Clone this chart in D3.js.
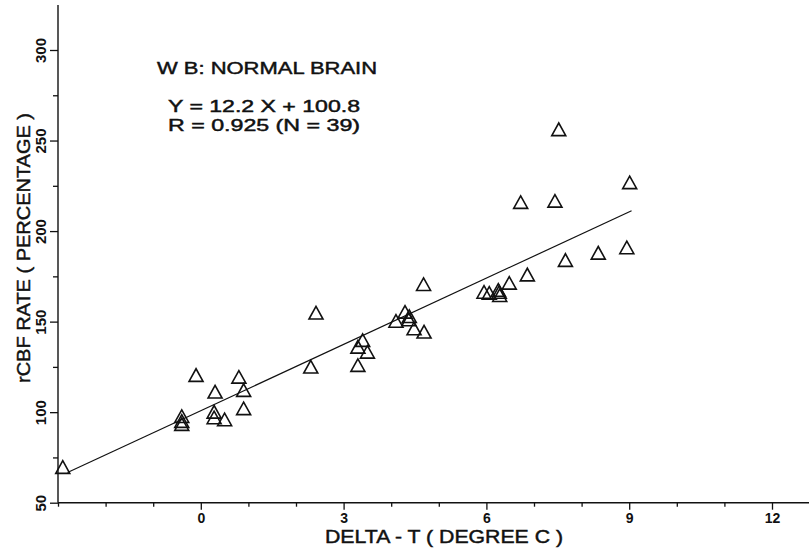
<!doctype html>
<html>
  <head>
    <meta charset="utf-8">
    <title>rCBF rate vs Delta-T</title>
    <script src="https://cdnjs.cloudflare.com/ajax/libs/d3/7.8.5/d3.min.js"></script>
    <style>
      body { margin: 0; background: #fff; }
      svg { display: block; font-family: "Liberation Sans", Arial, sans-serif; }
      .axis path, .axis line { stroke: #111; stroke-width: 1.3; }
      .axis text { fill: #111; font-size: 14px; font-weight: bold; }
      .label { fill: #111; stroke: #111; stroke-width: 0.45; }
    </style>
  </head>
  <body>
    <div id="chart"></div>
    <script>
    // data
    let deltaT = [-2.9, -0.4, -0.4, -0.4, -0.1, 0.3, 0.8, 0.9, 0.9, 0.28, 0.28, 0.5,
                  2.42, 2.31, 3.3, 3.4, 3.3, 3.5, 4.1, 4.29, 4.38, 4.37, 4.48, 4.69, 4.68,
                  5.95, 6.06, 6.27, 6.28, 6.25, 6.48, 6.86, 7.66, 8.35, 8.95,
                  6.72, 7.44, 7.52, 9.01];
    let rcbf = [69.7, 97.8, 95.1, 93.4, 120.5, 111.3, 119.5, 112.2, 102.1, 100.2, 97.1, 96,
                154.9, 125.1, 126, 139.8, 136.1, 133.3, 150.4, 155.4, 153, 151.2, 146.2, 144.4, 170.7,
                166.4, 165.9, 166.4, 164.6, 167.5, 171.4, 176, 184, 188, 191,
                216, 216.7, 256.2, 226.9];

    // regression: Y = 12.2 X + 100.8, drawn over the data range
    let slope = 12.2, intercept = 100.8;
    let fitRange = [-2.8, 9.05];

    let xMajor = [0, 3, 6, 9, 12];
    let xMinor = [-3, -2, -1, 1, 2, 4, 5, 7, 8, 10, 11];
    let yMajor = [50, 100, 150, 200, 250, 300];
    let yMinor = [75, 125, 175, 225, 275];

    let width = 809, height = 549;

    let x = d3.scaleLinear().domain([-3, 12]).range([58, 772]);
    let y = d3.scaleLinear().domain([50, 300]).range([502.7, 50]);

    let svg = d3.select("#chart").append("svg")
      .attr("width", width)
      .attr("height", height);

    // axis lines
    svg.append("line")
      .attr("x1", x(-3)).attr("x2", width)
      .attr("y1", y(50)).attr("y2", y(50))
      .attr("stroke", "#111").attr("stroke-width", 1.4);
    svg.append("line")
      .attr("x1", x(-3)).attr("x2", x(-3))
      .attr("y1", 5).attr("y2", y(50))
      .attr("stroke", "#111").attr("stroke-width", 1.4);

    // x axis, major + minor ticks
    let gx = svg.append("g").attr("class", "axis")
      .attr("transform", `translate(0,${y(50)})`)
      .call(d3.axisBottom(x).tickValues(xMajor).tickSize(7).tickPadding(3).tickFormat(d3.format("d")));
    gx.select(".domain").remove();
    let gxm = svg.append("g").attr("class", "axis")
      .attr("transform", `translate(0,${y(50)})`)
      .call(d3.axisBottom(x).tickValues(xMinor).tickSize(4).tickFormat(""));
    gxm.select(".domain").remove();

    // y axis, labels turned sideways
    let gy = svg.append("g").attr("class", "axis")
      .attr("transform", `translate(${x(-3)},0)`)
      .call(d3.axisLeft(y).tickValues(yMajor).tickSize(8).tickFormat(d3.format("d")));
    gy.select(".domain").remove();
    gy.selectAll("text")
      .attr("x", null).attr("dy", null)
      .attr("text-anchor", "middle")
      .attr("transform", "translate(-12,0) rotate(-90)")
      .style("font-size", "15px");
    let gym = svg.append("g").attr("class", "axis")
      .attr("transform", `translate(${x(-3)},0)`)
      .call(d3.axisLeft(y).tickValues(yMinor).tickSize(5).tickFormat(""));
    gym.select(".domain").remove();

    // axis titles
    svg.append("text")
      .attr("class", "label")
      .attr("x", 444).attr("y", 543)
      .attr("text-anchor", "middle")
      .attr("textLength", 238).attr("lengthAdjust", "spacingAndGlyphs")
      .style("font-size", "18px")
      .text("DELTA - T ( DEGREE C )");
    svg.append("text")
      .attr("class", "label")
      .attr("transform", "translate(30,248) rotate(-90)")
      .attr("text-anchor", "middle")
      .attr("textLength", 270).attr("lengthAdjust", "spacingAndGlyphs")
      .style("font-size", "19px")
      .text("rCBF RATE ( PERCENTAGE )");

    // annotation block
    let notes = [
      { t: "W B: NORMAL BRAIN", yy: 74, w: 220, fs: 17 },
      { t: "Y = 12.2 X + 100.8", yy: 111.5, w: 192, fs: 16 },
      { t: "R = 0.925 (N = 39)", yy: 131, w: 192, fs: 16 }
    ];
    svg.selectAll(".note").data(notes).join("text")
      .attr("class", "note label")
      .attr("x", (d, i) => i === 0 ? 157 : 168)
      .attr("y", d => d.yy)
      .attr("textLength", d => d.w).attr("lengthAdjust", "spacingAndGlyphs")
      .style("font-size", d => d.fs + "px")
      .text(d => d.t);

    // regression line
    svg.append("line")
      .attr("x1", x(fitRange[0])).attr("y1", y(slope * fitRange[0] + intercept))
      .attr("x2", x(fitRange[1])).attr("y2", y(slope * fitRange[1] + intercept))
      .attr("stroke", "#111").attr("stroke-width", 1.2);

    // open triangles, centred on their box
    let tri = {
      draw(ctx, size) {
        let w = Math.sqrt(size), h = w * 0.9;
        ctx.moveTo(0, -h / 2);
        ctx.lineTo(w / 2, h / 2);
        ctx.lineTo(-w / 2, h / 2);
        ctx.closePath();
      }
    };
    let pts = deltaT.map((d, i) => [d, rcbf[i]]);
    svg.selectAll(".pt").data(pts).join("path")
      .attr("class", "pt")
      .attr("d", d3.symbol().type(tri).size(196))
      .attr("transform", d => `translate(${x(d[0])},${y(d[1])})`)
      .attr("fill", "none")
      .attr("stroke", "#111")
      .attr("stroke-width", 1.6);
    </script>
  </body>
</html>
